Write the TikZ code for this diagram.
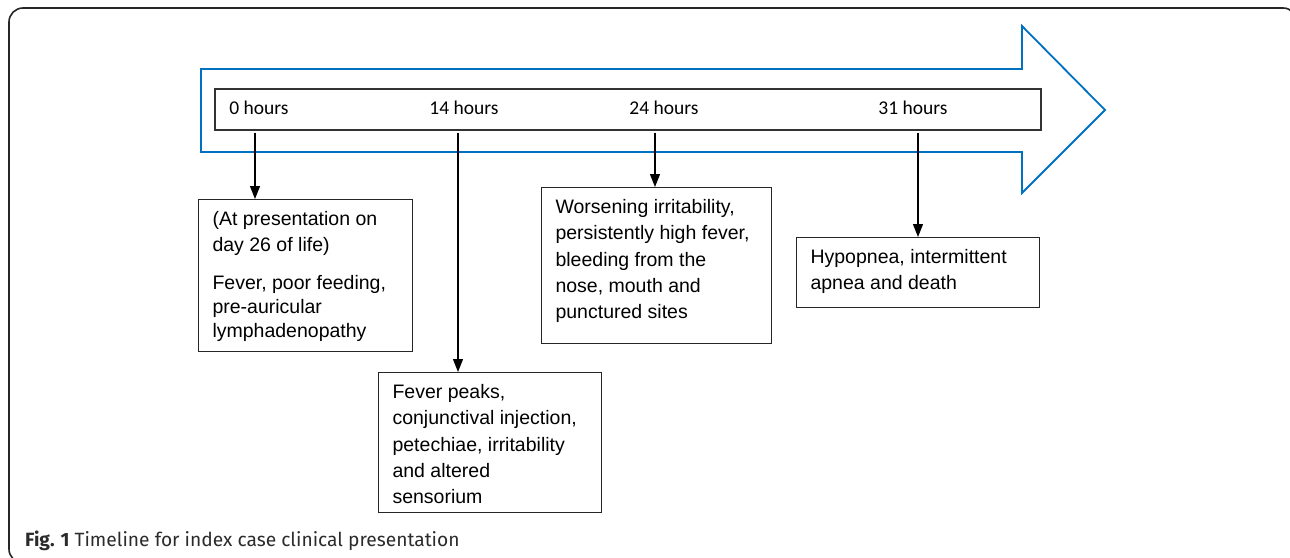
\documentclass[tikz,border=0pt]{standalone}
\usepackage{fontspec}
\setmainfont{Liberation Sans}
\newfontfamily\hourfont{Carlito}
\newfontfamily\capfont{Fira Sans}
\usetikzlibrary{arrows.meta,positioning}
\definecolor{timelineblue}{HTML}{0070C0}
\definecolor{framegray}{HTML}{262626}
\definecolor{captiongray}{HTML}{2B2B2B}
\newcommand{\eventtext}[3]{\parbox[t][#2][t]{#1}{\leftskip=14pt\rightskip=0pt plus 1fil\parindent=0pt\parskip=0pt\rule{0pt}{26pt}#3}}
\tikzset{
  outerframe/.style={draw=framegray,line width=1.6pt,rounded corners=14pt},
  timearrow/.style={draw=timelineblue,line width=1.8pt,line join=miter},
  hourbar/.style={draw=black!80,line width=1.1pt,minimum width=826pt,minimum height=41pt,inner sep=0pt},
  hourlabel/.style={font=\hourfont\fontsize{19.5pt}{23pt}\selectfont,anchor=base,inner sep=0pt},
  eventbox/.style={draw=black!85,line width=1.1pt,anchor=north west,inner sep=0pt,font=\fontsize{19.5pt}{26.3pt}\selectfont},
  evarrow/.style={-{Triangle[length=13pt,width=10pt]},line width=1.3pt,draw=black,shorten <=2pt},
  caption/.style={font=\capfont\fontsize{19.2pt}{23pt}\selectfont,text=captiongray,anchor=base west,inner sep=0pt}
}
\begin{document}
\begin{tikzpicture}[x=1pt,y=1pt]
  \useasboundingbox (0,0) rectangle (1290,-557);
  \begin{scope}
    \clip (0,0) rectangle (1290,-557);
    \draw[outerframe] (9,-8) rectangle (1297,-563);
  \end{scope}
  % blue timeline arrow
  \draw[timearrow] (201,-69) -- (1022,-69) -- (1022,-26) -- (1105,-110) -- (1022,-193) -- (1022,-152) -- (201,-152) -- cycle;
  \node[hourbar] (bar) at (628,-109.5) {};
  \node[hourlabel] (h0) at (259,-114) {0 hours};
  \node[hourlabel] (h14) at (464,-114) {14 hours};
  \node[hourlabel] (h24) at (664,-114) {24 hours};
  \node[hourlabel] (h31) at (913,-114) {31 hours};
  % event boxes
  \node[eventbox] (ev0) at (198,-199) {\eventtext{214pt}{152pt}{(At presentation on\\day 26 of life)\\[11pt]Fever, poor feeding,\\[-2.3pt]pre-auricular\\[-2.3pt]lymphadenopathy}};
  \node[eventbox] (ev14) at (378,-372) {\eventtext{223pt}{140pt}{Fever peaks,\\conjunctival injection,\\petechiae, irritability\\and altered\\sensorium}};
  \node[eventbox] (ev24) at (541,-187) {\eventtext{230pt}{156pt}{Worsening irritability,\\persistently high fever,\\bleeding from the\\nose, mouth and\\punctured sites}};
  \node[eventbox] (ev31) at (796,-237) {\eventtext{243pt}{70pt}{Hypopnea, intermittent\\apnea and death}};
  % arrows down from the timeline
  \coordinate (t0) at ([xshift=-4pt]h0.south);
  \coordinate (t14) at ([xshift=-6pt]h14.south);
  \coordinate (t24) at ([xshift=-9pt]h24.south);
  \coordinate (t31) at ([xshift=5pt]h31.south);
  \draw[evarrow] (t0 |- bar.south) -- (t0 |- ev0.north);
  \draw[evarrow] (t14 |- bar.south) -- (t14 |- ev14.north);
  \draw[evarrow] (t24 |- bar.south) -- (t24 |- ev24.north);
  \draw[evarrow] (t31 |- bar.south) -- (t31 |- ev31.north);
  \node[caption] (cap) at (25,-546) {\textbf{Fig. 1} Timeline for index case clinical presentation};
\end{tikzpicture}
\end{document}
